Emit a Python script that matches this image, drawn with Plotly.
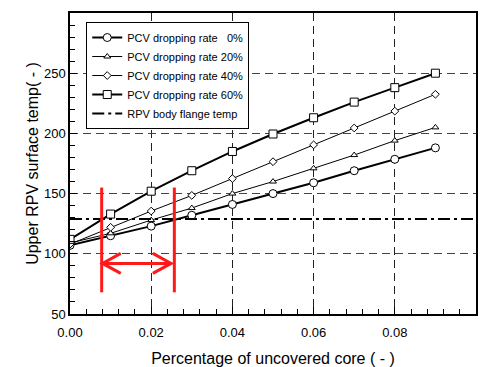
import plotly.graph_objects as go

# ---- data ----
x_vals = [0.00, 0.01, 0.02, 0.03, 0.04, 0.05, 0.06, 0.07, 0.08, 0.09]
rate_0 = [107, 115, 123, 132, 141, 150, 159, 169, 178.5, 188]
rate_20 = [109, 117, 128, 138, 150, 160, 171, 182, 194, 205]
rate_40 = [108, 122, 135.5, 148.5, 162.5, 176.5, 190.5, 204.5, 218.5, 232.5]
rate_60 = [112, 133, 152, 169, 185, 199.5, 213, 226, 238, 250]
flange_temp = 129
flange_x = [0.0, 0.1]

red_bounds_x = [0.0078, 0.0257]
red_bounds_y = [68, 155]
arrow_x = [0.0080, 0.0249]
arrow_y = 92
arrow_arm_dx = 0.0045
arrow_arm_dy = 8.3

names = ["PCV dropping rate\u00a0\u00a0\u00a00%", "PCV dropping rate 20%",
         "PCV dropping rate 40%", "PCV dropping rate 60%", "RPV body flange temp"]

FONT = "Arial, Liberation Sans, sans-serif"

fig = go.Figure()
series = [
    (rate_0, "circle", 8, 2),
    (rate_20, "triangle-up", 6, 1),
    (rate_40, "diamond", 6, 1),
    (rate_60, "square", 8, 2),
]
for (ys, sym, sz, lw), nm in zip(series, names[:4]):
    fig.add_trace(go.Scatter(
        x=x_vals, y=ys, mode="lines+markers", name=nm,
        line=dict(color="black", width=lw),
        marker=dict(symbol=sym, size=sz, color="white",
                    line=dict(color="black", width=1)),
    ))

fig.add_trace(go.Scatter(
    x=flange_x, y=[flange_temp, flange_temp], mode="lines", name=names[4],
    line=dict(color="black", width=2, dash="12px,4px,3px,4px"),
))

# red annotation shapes
shapes = []
for bx in red_bounds_x:
    shapes.append(dict(type="line", xref="x", yref="y", x0=bx, x1=bx,
                       y0=red_bounds_y[0], y1=red_bounds_y[1],
                       line=dict(color="#ff1a1a", width=3)))
shapes.append(dict(type="line", xref="x", yref="y", x0=arrow_x[0], x1=arrow_x[1],
                   y0=arrow_y, y1=arrow_y, line=dict(color="#ff1a1a", width=3)))
lx, rx = arrow_x
shapes.append(dict(type="path", xref="x", yref="y",
                   path=f"M {lx+arrow_arm_dx},{arrow_y+arrow_arm_dy} L {lx},{arrow_y} L {lx+arrow_arm_dx},{arrow_y-arrow_arm_dy}",
                   line=dict(color="#ff1a1a", width=3)))
shapes.append(dict(type="path", xref="x", yref="y",
                   path=f"M {rx-arrow_arm_dx},{arrow_y+arrow_arm_dy} L {rx},{arrow_y} L {rx-arrow_arm_dx},{arrow_y-arrow_arm_dy}",
                   line=dict(color="#ff1a1a", width=3)))

fig.update_layout(
    width=479, height=359,
    margin=dict(l=62, r=11, t=5, b=53, autoexpand=False),
    plot_bgcolor="white", paper_bgcolor="white",
    font=dict(family=FONT, color="black", size=13),
    shapes=shapes,
    showlegend=True,
    legend=dict(x=0.04, y=0.97, xanchor="left", yanchor="top",
                bgcolor="white", bordercolor="black", borderwidth=1,
                font=dict(family=FONT, size=11, color="black"),
                tracegroupgap=0, itemwidth=30),
)
fig.update_xaxes(
    range=[0, 0.1], dtick=0.02, tickformat=".2f", automargin=False,
    showline=True, linecolor="black", linewidth=1.5, mirror=True,
    ticks="inside", ticklen=7, tickcolor="black", ticklabelstandoff=6,
    minor=dict(ticks="inside", ticklen=5, dtick=0.004, tickcolor="black", showgrid=False),
    showgrid=True, gridcolor="#222", gridwidth=1, griddash="8px,5px",
    zeroline=False,
    title=dict(text="Percentage of uncovered core ( - )", font=dict(size=16), standoff=15),
)
fig.update_yaxes(
    range=[50, 300], dtick=50, automargin=False,
    showline=True, linecolor="black", linewidth=1.5, mirror=True,
    ticks="inside", ticklen=7, tickcolor="black",
    minor=dict(ticks="inside", ticklen=5, dtick=10, tickcolor="black", showgrid=False),
    showgrid=True, gridcolor="#444", gridwidth=1, griddash="8px,5px",
    zeroline=False,
    title=dict(text="Upper RPV surface temp( - )", font=dict(size=16), standoff=1),
)

fig.write_html("out.html")
